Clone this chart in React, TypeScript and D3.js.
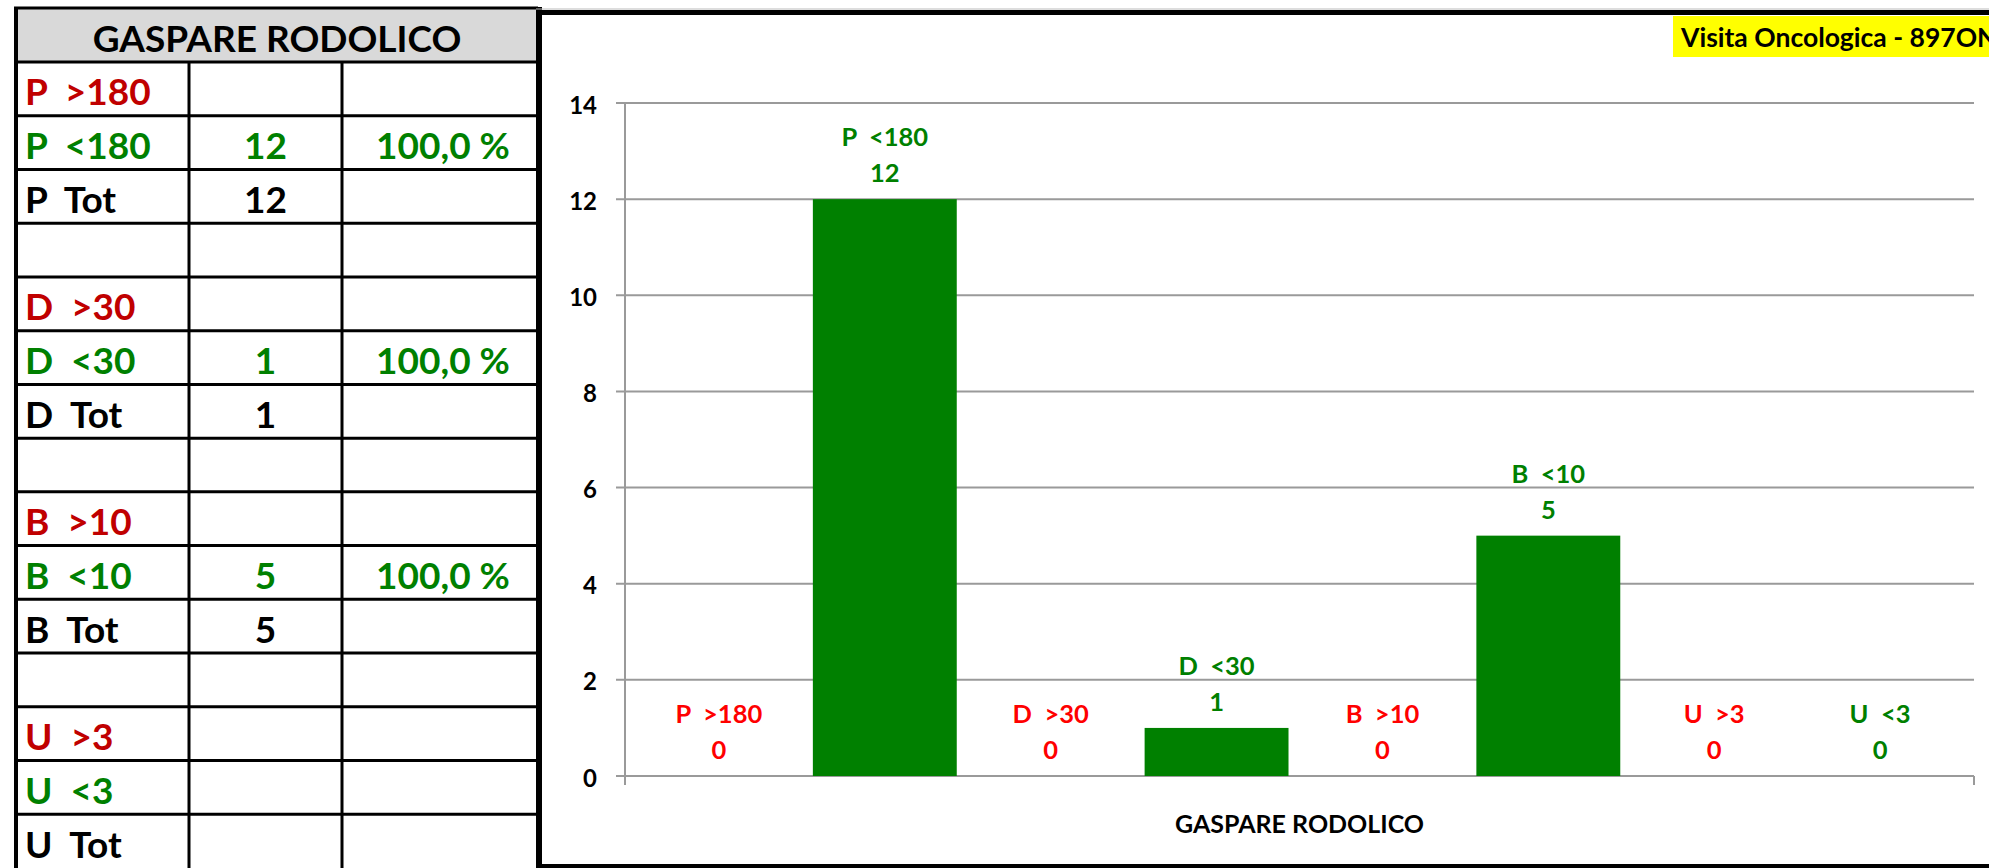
import React from "react";
import * as d3 from "d3";

// Chart series: one category with one bar per threshold class
const seriesNames = ["P  >180", "P  <180", "D  >30", "D  <30", "B  >10", "B  <10", "U  >3", "U  <3"];
const seriesValues = [0, 12, 0, 1, 0, 5, 0, 0];
const seriesKinds = ["over", "under", "over", "under", "over", "under", "over", "under"];
const yTicks = [0, 2, 4, 6, 8, 10, 12, 14];
const categoryLabel = "GASPARE RODOLICO";
const badgeText = "Visita Oncologica - 897ONC";

// Summary table
const tableTitle = "GASPARE RODOLICO";
const rowLabels = [
  "P  >180", "P  <180", "P  Tot", "",
  "D  >30", "D  <30", "D  Tot", "",
  "B  >10", "B  <10", "B  Tot", "",
  "U  >3", "U  <3", "U  Tot",
];
const rowKinds = [
  "over", "under", "total", "blank",
  "over", "under", "total", "blank",
  "over", "under", "total", "blank",
  "over", "under", "total",
];
const rowCounts = ["", "12", "12", "", "", "1", "1", "", "", "5", "5", "", "", "", ""];
const rowPercents = ["", "100,0 %", "", "", "", "100,0 %", "", "", "", "100,0 %", "", "", "", "", ""];

const FONT = "Lato, 'Open Sans', sans-serif";
const W = 1989;
const H = 868;

const tableColors: Record<string, string> = {
  over: "#c00000",
  under: "#008000",
  total: "#000000",
  blank: "#000000",
};
const labelColors: Record<string, string> = { over: "#ff0000", under: "#008000" };
const barColors: Record<string, string> = { over: "#ff0000", under: "#008000" };

export default function App() {
  // table geometry
  const tLeft = 16;
  const tRight = 538;
  const tTop = 8;
  const headerBottom = 62;
  const colX = [tLeft, 189, 342, tRight];
  const rowH = (H - headerBottom) / rowLabels.length;
  const rowY = (i: number) => headerBottom + i * rowH;

  // plot geometry
  const plotLeft = 625;
  const plotRight = 1974;
  const y = d3.scaleLinear().domain([0, 14]).range([776, 103]);
  const x = d3
    .scaleBand<string>()
    .domain(seriesNames)
    .range([plotLeft, plotRight])
    .paddingInner(0.1325)
    .paddingOuter(0.1325);

  const grid = "#9a9a9a";

  return (
    <svg
      width={W}
      height={H}
      style={{ position: "absolute", left: 0, top: 0, display: "block", background: "#fff" }}
      fontFamily={FONT}
      fontWeight="bold"
    >
      {/* ---- summary table ---- */}
      <rect x={tLeft} y={tTop} width={tRight - tLeft} height={headerBottom - tTop} fill="#d9d9d9" />
      <text
        x={(tLeft + tRight) / 2}
        y={(tTop + headerBottom) / 2 + 2}
        textAnchor="middle"
        dominantBaseline="central"
        fontSize={37}
        fill="#000"
      >
        {tableTitle}
      </text>
      {rowLabels.map((lab, i) => {
        const cy = rowY(i) + rowH / 2 + 2;
        const col = tableColors[rowKinds[i]];
        return (
          <g key={"row" + i}>
            <text
              x={colX[0] + 9}
              y={cy}
              dominantBaseline="central"
              fontSize={37}
              fill={col}
              style={{ whiteSpace: "pre" }}
            >
              {lab}
            </text>
            <text x={(colX[1] + colX[2]) / 2} y={cy} textAnchor="middle" dominantBaseline="central" fontSize={37} fill={col}>
              {rowCounts[i]}
            </text>
            <text x={(colX[2] + colX[3]) / 2 + 3} y={cy} textAnchor="middle" dominantBaseline="central" fontSize={37} fill={col}>
              {rowPercents[i]}
            </text>
          </g>
        );
      })}
      {/* table rules */}
      {rowLabels.map((_, i) => (
        <line key={"hl" + i} x1={tLeft} x2={tRight} y1={rowY(i)} y2={rowY(i)} stroke="#000" strokeWidth={3} />
      ))}
      {[colX[1], colX[2]].map((cx, i) => (
        <line key={"vl" + i} x1={cx} x2={cx} y1={headerBottom} y2={H} stroke="#000" strokeWidth={3} />
      ))}
      <line x1={tLeft} x2={tLeft} y1={tTop} y2={H} stroke="#000" strokeWidth={4} />
      <line x1={tLeft - 2} x2={tRight} y1={tTop} y2={tTop} stroke="#000" strokeWidth={3} />

      {/* ---- chart frame ---- */}
      <line x1={539} x2={539} y1={tTop - 1} y2={H} stroke="#000" strokeWidth={6} />
      <line x1={536} x2={W} y1={12.5} y2={12.5} stroke="#000" strokeWidth={5} />
      <line x1={536} x2={W} y1={9} y2={9} stroke="#bbb" strokeWidth={1} />
      <line x1={536} x2={W} y1={866} y2={866} stroke="#000" strokeWidth={4} />

      {/* badge */}
      <rect x={1673} y={16} width={W - 1673} height={41} fill="#ffff00" />
      <text x={1681} y={37} dominantBaseline="central" fontSize={26.5} fill="#000">
        {badgeText}
      </text>

      {/* gridlines and value axis */}
      {yTicks.map((t) => (
        <g key={"yt" + t}>
          <line x1={plotLeft - 9} x2={plotRight} y1={y(t)} y2={y(t)} stroke={grid} strokeWidth={2} />
          <text x={597} y={y(t) + 1} textAnchor="end" dominantBaseline="central" fontSize={24} fill="#000">
            {t}
          </text>
        </g>
      ))}
      <line x1={plotLeft} x2={plotLeft} y1={y(14)} y2={y(0) + 9} stroke={grid} strokeWidth={2} />
      <line x1={plotRight} x2={plotRight} y1={y(0)} y2={y(0) + 9} stroke={grid} strokeWidth={2} />

      {/* bars */}
      {seriesNames.map((s, i) => (
        <rect
          key={"bar" + s}
          x={x(s)}
          y={y(seriesValues[i])}
          width={x.bandwidth()}
          height={y(0) - y(seriesValues[i])}
          fill={barColors[seriesKinds[i]]}
        />
      ))}

      {/* data labels: series name over value */}
      {seriesNames.map((s, i) => {
        const cx = (x(s) as number) + x.bandwidth() / 2;
        const top = y(seriesValues[i]);
        const col = labelColors[seriesKinds[i]];
        return (
          <g key={"lab" + s} fill={col} fontSize={25.5} textAnchor="middle">
            <text x={cx} y={top - 63} dominantBaseline="central" style={{ whiteSpace: "pre" }}>
              {s}
            </text>
            <text x={cx} y={top - 27} dominantBaseline="central">
              {seriesValues[i]}
            </text>
          </g>
        );
      })}

      {/* category axis title */}
      <text x={(plotLeft + plotRight) / 2} y={823} textAnchor="middle" dominantBaseline="central" fontSize={25} fill="#000">
        {categoryLabel}
      </text>
    </svg>
  );
}
